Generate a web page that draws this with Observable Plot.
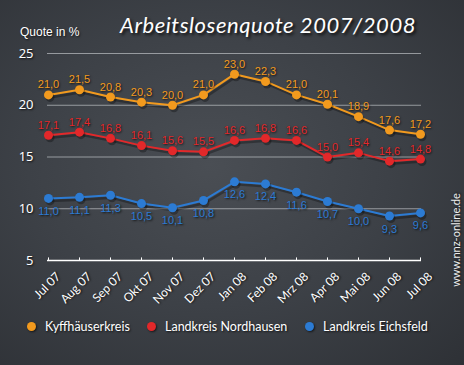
<!DOCTYPE html>
<html>
<head>
<meta charset="utf-8">
<script src="https://cdn.jsdelivr.net/npm/d3@7"></script>
<script src="https://cdn.jsdelivr.net/npm/@observablehq/plot@0.6"></script>
<style>
  html, body { margin: 0; padding: 0; }
  #wrap {
    position: relative; width: 464px; height: 365px; overflow: hidden;
    background: radial-gradient(ellipse at 45% 45%, #4a4e54 0%, #3d4147 50%, #2e3136 100%);
    font-family: Lato, "DejaVu Sans", sans-serif;
  }
  #chart { position: absolute; left: 0; top: 0; }
  #chart svg text { text-shadow: 1px 1px 2px rgba(0,0,0,0.75); }
  .title {
    position: absolute; left: 120px; top: 11px; color: #fff;
    font: italic 400 22px Lato, sans-serif; letter-spacing: 0.55px;
    text-shadow: 2px 2px 3px rgba(0,0,0,0.8); white-space: nowrap;
  }
  .ylabel {
    position: absolute; left: 20px; top: 25px; color: #fff;
    font: 12px "Liberation Sans", Arial, sans-serif; white-space: nowrap;
    text-shadow: 1px 1px 2px rgba(0,0,0,0.7);
  }
  .legend { position: absolute; top: 319px; left: 0; width: 464px; height: 18px; }
  .legend .item { position: absolute; top: 0; display: flex; align-items: center; color: #fff;
    font: 12.5px Lato, sans-serif; white-space: nowrap; text-shadow: 1px 1px 2px rgba(0,0,0,0.7); }
  .legend .dot { width: 9px; height: 9px; border-radius: 50%; margin-right: 9px; box-shadow: 1px 1px 2px rgba(0,0,0,0.6); }
  .wm {
    position: absolute; left: 455px; top: 240px; color: #eee;
    font: 11px Lato, sans-serif; white-space: nowrap;
    transform: translate(-50%, -50%) rotate(-90deg);
    text-shadow: 1px 1px 2px rgba(0,0,0,0.7);
  }
</style>
</head>
<body>
<div id="wrap">
  <div id="chart"></div>
  <div class="title">Arbeitslosenquote 2007/2008</div>
  <div class="ylabel">Quote in %</div>
  <div class="legend" id="legend"></div>
  <div class="wm">www.nnz-online.de</div>
</div>
<script>
const months = ["Jul 07","Aug 07","Sep 07","Okt 07","Nov 07","Dez 07","Jan 08","Feb 08","Mrz 08","Apr 08","Mai 08","Jun 08","Jul 08"];
const kyffhaeuser = [21.0, 21.5, 20.8, 20.3, 20.0, 21.0, 23.0, 22.3, 21.0, 20.1, 18.9, 17.6, 17.2];
const nordhausen  = [17.1, 17.4, 16.8, 16.1, 15.6, 15.5, 16.6, 16.8, 16.6, 15.0, 15.4, 14.6, 14.8];
const eichsfeld   = [11.0, 11.1, 11.3, 10.5, 10.1, 10.8, 12.6, 12.4, 11.6, 10.7, 10.0, 9.3, 9.6];
const seriesNames = ["Kyffhäuserkreis", "Landkreis Nordhausen", "Landkreis Eichsfeld"];
const seriesColors = ["#f29a1e", "#e2282a", "#2c7bd3"];
const yTicks = [5, 10, 15, 20, 25];

const seriesValues = [kyffhaeuser, nordhausen, eichsfeld];
const data = seriesNames.flatMap((name, i) =>
  seriesValues[i].map((v, j) => ({month: months[j], value: v, series: name})));
const fmt = d => d.value.toFixed(1).replace(".", ",");
const above = data.filter(d => d.series !== "Landkreis Eichsfeld");
const below = data.filter(d => d.series === "Landkreis Eichsfeld");
const yMin = yTicks[0];

const chart = Plot.plot({
  width: 464, height: 310,
  marginTop: 53, marginLeft: 47, marginRight: 43, marginBottom: 50,
  style: {background: "transparent", color: "white", overflow: "visible"},
  x: {type: "point", domain: months, padding: 0, label: null},
  y: {type: "linear", domain: [5, 25], label: null},
  color: {domain: seriesNames, range: seriesColors},
  marks: [
    Plot.ruleY(yTicks.filter(t => t !== yMin), {stroke: "#d4d7db", strokeOpacity: 0.6, strokeWidth: 1}),
    Plot.ruleY([yMin], {stroke: "white", strokeWidth: 1.5}),
    Plot.ruleX(months, {x: d => d, y1: () => yMin, y2: () => yMin + 0.25, stroke: "white", strokeWidth: 1}),
    Plot.axisY({ticks: yTicks, tickSize: 0, tickPadding: 14, fontSize: 13, fill: "white", label: null}),
    Plot.axisX({tickRotate: -45, tickSize: 0, tickPadding: 14, dx: 10, fontSize: 12, fill: "white", fontFamily: "Lato", label: null}),
    Plot.line(data, {x: "month", y: "value", z: "series", stroke: "black", strokeOpacity: 0.3, strokeWidth: 2.5, dx: 1.5, dy: 2.5}),
    Plot.line(data, {x: "month", y: "value", stroke: "series", strokeWidth: 2}),
    Plot.dot(data, {x: "month", y: "value", r: 4.5, fill: "black", fillOpacity: 0.3, dx: 1.5, dy: 2.5}),
    Plot.dot(data, {x: "month", y: "value", r: 4.5, fill: "series"}),
    Plot.text(above, {x: "month", y: "value", text: fmt, fill: "series", dy: -10, fontSize: 11, fontFamily: "Liberation Sans"}),
    Plot.text(below, {x: "month", y: "value", text: fmt, fill: "series", dy: 13, fontSize: 11, fontFamily: "Liberation Sans"})
  ]
});
document.getElementById("chart").appendChild(chart);

const legendX = [27, 147, 305];
const legend = document.getElementById("legend");
seriesNames.forEach((name, i) => {
  const item = document.createElement("div");
  item.className = "item";
  item.style.left = legendX[i] + "px";
  const dot = document.createElement("span");
  dot.className = "dot";
  dot.style.background = seriesColors[i];
  item.appendChild(dot);
  item.appendChild(document.createTextNode(name));
  legend.appendChild(item);
});
</script>
</body>
</html>
